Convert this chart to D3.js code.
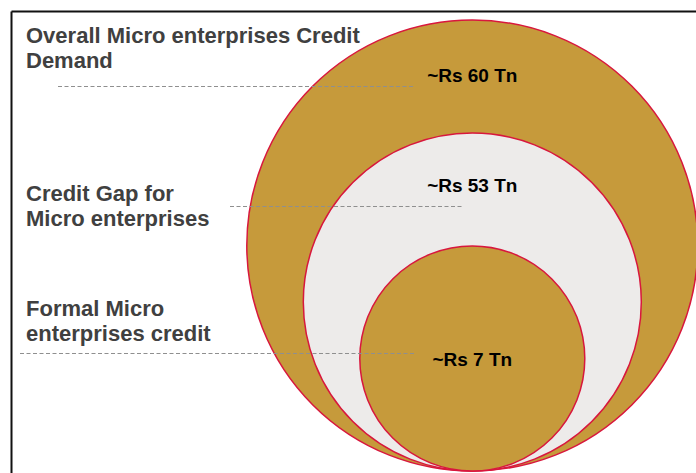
<!DOCTYPE html>
<html><head><meta charset="utf-8">
<script src="https://cdn.jsdelivr.net/npm/d3@7"></script>
<style>html,body{margin:0;padding:0;background:#fff;}svg{display:block;}</style>
</head><body>
<script>
const categories = ["Overall Micro enterprises Credit Demand", "Credit Gap for Micro enterprises", "Formal Micro enterprises credit"];
const labelLines = [["Overall Micro enterprises Credit", "Demand"], ["Credit Gap for", "Micro enterprises"], ["Formal Micro", "enterprises credit"]];
const values = [60, 53, 7];
const valueLabels = ["~Rs 60 Tn", "~Rs 53 Tn", "~Rs 7 Tn"];
const levels = [0, 1, 2];

const W = 696, H = 473;
const svg = d3.select("body").append("svg").attr("width", W).attr("height", H);

const cx = 472.3, bottom = 471;
const r = d3.scaleLinear().domain([0, 2]).range([225.5, 112.5]);
const fills = ["#C69A3B", "#EDEBEA", "#C69A3B"];

// frame
svg.append("line").attr("x1", 11.5).attr("x2", W).attr("y1", 11.5).attr("y2", 11.5).attr("stroke", "#111").attr("stroke-width", 2);
svg.append("line").attr("x1", 11.5).attr("x2", 11.5).attr("y1", 11.5).attr("y2", H).attr("stroke", "#111").attr("stroke-width", 2);

svg.selectAll("circle.c").data(levels).join("circle")
  .attr("class", "c")
  .attr("cx", cx)
  .attr("cy", d => bottom - r(d))
  .attr("r", d => r(d))
  .attr("fill", d => fills[d])
  .attr("stroke", "#D8173D")
  .attr("stroke-width", 1.5);

// category label positions
const labelY = [43, 200.5, 316];
const dashY = [86.5, 206.5, 353.5];
const dashX = [[58, 413], [230, 463], [20, 415]];

levels.forEach(i => {
  const t = svg.append("text")
    .attr("x", 26).attr("y", labelY[i])
    .attr("font-family", "Liberation Sans, Arial, sans-serif")
    .attr("font-weight", "bold").attr("font-size", 22)
    .attr("fill", "#404040");
  labelLines[i].forEach((ln, k) => {
    t.append("tspan").attr("x", 26).attr("y", labelY[i] + k * 25).text(ln);
  });
  svg.append("line")
    .attr("x1", dashX[i][0]).attr("x2", dashX[i][1])
    .attr("y1", dashY[i]).attr("y2", dashY[i])
    .attr("stroke", "#8f8f8f").attr("stroke-width", 1)
    .attr("stroke-dasharray", "4,2.5");
});

const valY = [82, 192, 366];
svg.selectAll("text.v").data(levels).join("text")
  .attr("class", "v")
  .attr("x", cx).attr("y", d => valY[d])
  .attr("text-anchor", "middle")
  .attr("font-family", "Liberation Sans, Arial, sans-serif")
  .attr("font-weight", "bold").attr("font-size", 19)
  .attr("fill", "#000")
  .text(d => valueLabels[d]);
</script>
</body></html>
